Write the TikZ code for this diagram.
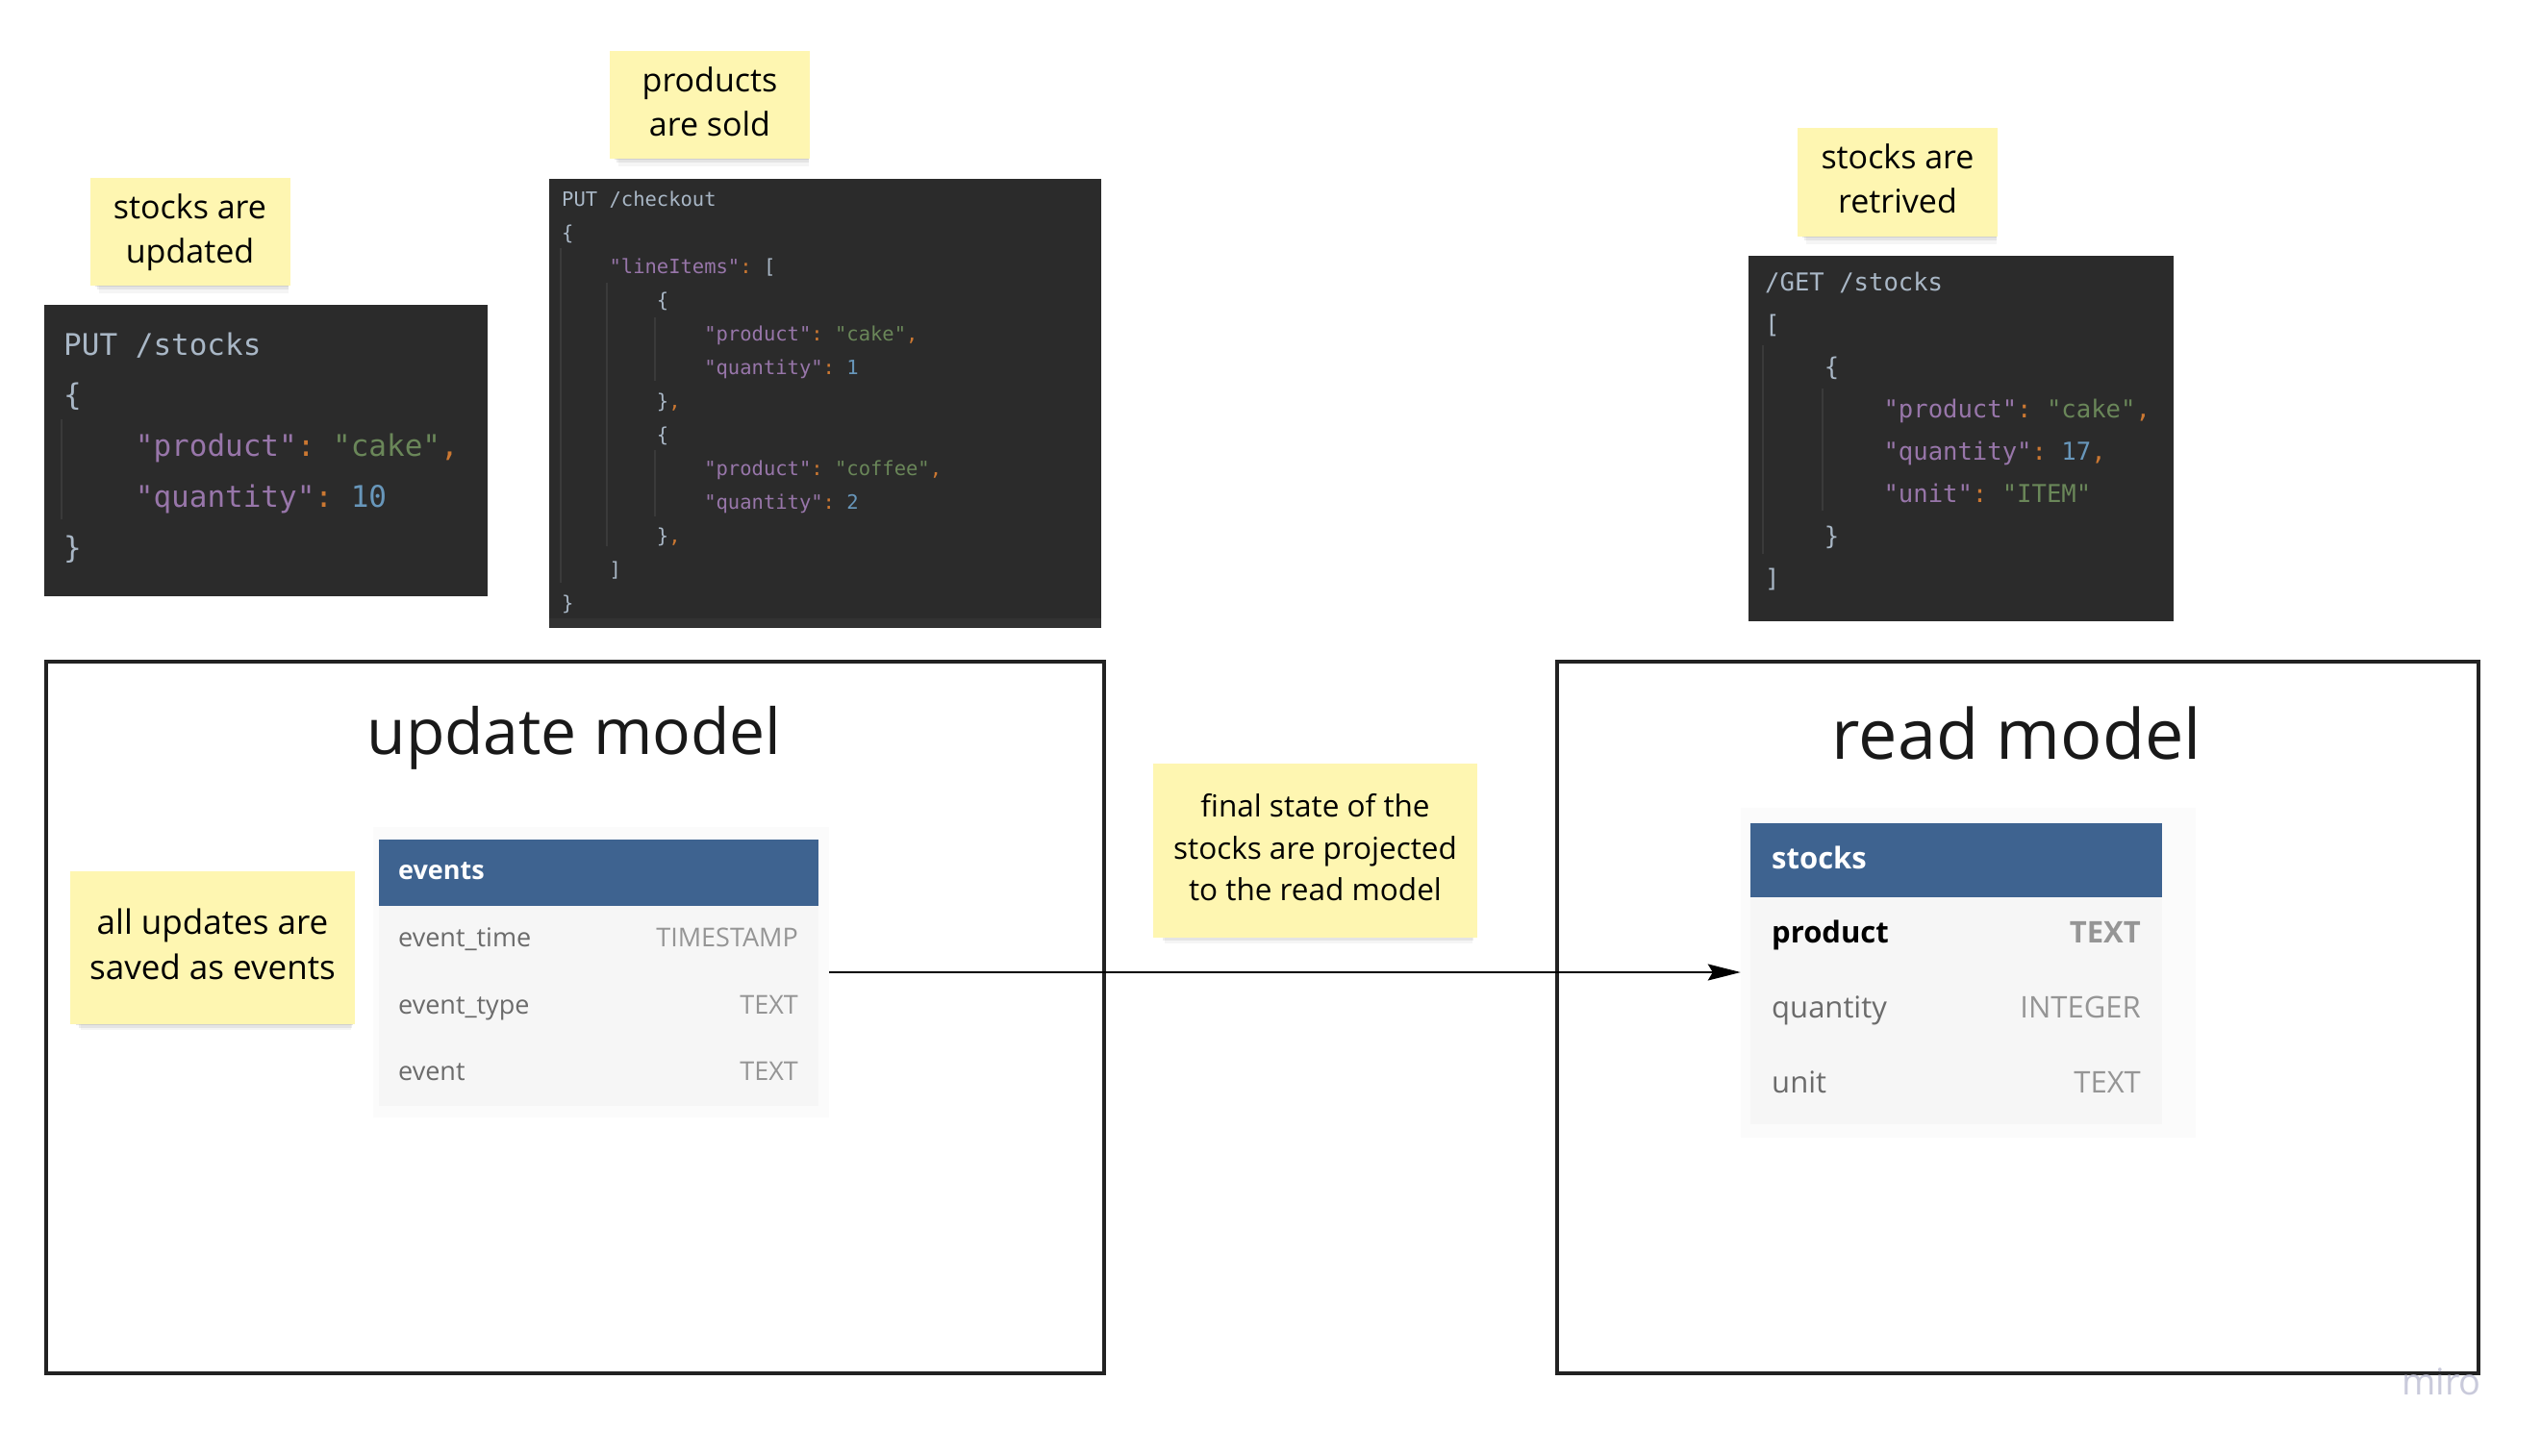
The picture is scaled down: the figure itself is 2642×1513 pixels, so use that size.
\documentclass[tikz,border=0pt]{standalone}
\usepackage{fontspec}
\setmainfont{Open Sans}
\setmonofont{DejaVu Sans Mono}
\usetikzlibrary{arrows.meta}
\usetikzlibrary{shadows}

\definecolor{codebg}{HTML}{2B2B2B}
\definecolor{codestrip}{HTML}{323232}
\definecolor{codefg}{HTML}{A9B7C6}
\definecolor{keyc}{HTML}{9876AA}
\definecolor{strc}{HTML}{6A8759}
\definecolor{numc}{HTML}{6897BB}
\definecolor{punc}{HTML}{CC7832}
\definecolor{guidec}{HTML}{3A3A3A}
\definecolor{notec}{HTML}{FEF6B1}
\definecolor{headc}{HTML}{3E6390}
\definecolor{bodyc}{HTML}{F6F6F6}
\definecolor{tabbgc}{HTML}{FBFBFB}
\definecolor{framec}{HTML}{222222}
\definecolor{namec}{HTML}{6B6B6B}
\definecolor{typec}{HTML}{959595}
\definecolor{miroc}{HTML}{C9CADB}

\newcommand{\jkey}[1]{\textcolor{keyc}{#1}}
\newcommand{\jstr}[1]{\textcolor{strc}{#1}}
\newcommand{\jnum}[1]{\textcolor{numc}{#1}}
\newcommand{\jpun}[1]{\textcolor{punc}{#1}}
\newcommand{\jin}{\hphantom{0000}}

\begin{document}
\begin{tikzpicture}[x=1pt,y=-1pt]
\tikzset{note/.style = {fill=notec, align=center, inner sep=0pt,
  drop shadow={shadow xshift=2pt, shadow yshift=-3pt, shadow scale=0.97, opacity=.2},
  drop shadow={shadow xshift=3pt, shadow yshift=-7pt, shadow scale=0.96, opacity=.14},
  drop shadow={shadow xshift=4pt, shadow yshift=-11pt, shadow scale=0.95, opacity=.08}}}
\tikzset{codebox/.style = {fill=codebg, inner sep=0pt}}
\tikzset{codetext/.style = {anchor=north west, align=left, inner sep=0pt, text=codefg}}
\tikzset{guide/.style = {draw=guidec, line width=1.5pt}}
\tikzset{frame/.style = {draw=framec, line width=4.5pt, inner sep=0pt}}
\tikzset{title/.style = {anchor=base, inner sep=0pt, text=black!90}}
\tikzset{tabbg/.style = {fill=tabbgc, inner sep=0pt}}
\tikzset{tabhead/.style = {fill=headc, inner sep=0pt}}
\tikzset{tabbody/.style = {fill=bodyc, inner sep=0pt}}
\tikzset{colname/.style = {anchor=base west, inner sep=0pt, text=namec}}
\tikzset{coltype/.style = {anchor=base east, inner sep=0pt, text=typec}}
\tikzset{edge/.style = {-{Stealth[length=34pt,width=17pt,inset=5pt]}, line width=2pt}}

\fill[white] (0,0) rectangle (2642,1513);
\useasboundingbox (0,0) rectangle (2642,1513);

% sticky notes
\node[note, minimum width=208pt, minimum height=112pt, font=\fontsize{34}{46}\selectfont] (noteput) at (197.5,241) {\strut stocks are\\updated\strut};
\node[note, minimum width=208pt, minimum height=112pt, font=\fontsize{34}{46}\selectfont] (notesold) at (738,109) {\strut products\\are sold\strut};
\node[note, minimum width=208pt, minimum height=113pt, font=\fontsize{34}{46}\selectfont] (noteget) at (1973,189.5) {\strut stocks are\\retrived\strut};
\node[note, minimum width=296pt, minimum height=159pt, font=\fontsize{35}{47}\selectfont] (noteevents) at (221,985.5) {\strut all updates are\\saved as events\strut};
\node[note, minimum width=337pt, minimum height=181pt, font=\fontsize{31.5}{43.6}\selectfont] (noteproj) at (1367.5,884.5) {\strut final state of the\\stocks are projected\\to the read model\strut};

% code snippets
\node[codebox, minimum width=461pt, minimum height=303pt] (codeput) at (276.5,468.5) {};
\draw[guide] (64,436) -- (64,540);
\node[codetext, font=\ttfamily\fontsize{31}{52.8}\selectfont] (jsonput) at (66,332) {\strut PUT /stocks\\
\{\\
\jin\jkey{"product"}\jpun{:} \jstr{"cake"}\jpun{,}\\
\jin\jkey{"quantity"}\jpun{:} \jnum{10}\\
\}};

\node[codebox, minimum width=574pt, minimum height=467pt] (codesold) at (858,419.5) {};
\fill[codestrip] (571,643) rectangle (1145,653);
\draw[guide] (583,258) -- (583,606);
\draw[guide] (631,294) -- (631,568);
\draw[guide] (681,330) -- (681,396);
\draw[guide] (681,468) -- (681,537);
\node[codetext, font=\ttfamily\fontsize{20.5}{35}\selectfont] (jsonsold) at (584,189.5) {\strut PUT /checkout\\
\{\\
\jin\jkey{"lineItems"}\jpun{:} {[}\\
\jin\jin\{\\
\jin\jin\jin\jkey{"product"}\jpun{:} \jstr{"cake"}\jpun{,}\\
\jin\jin\jin\jkey{"quantity"}\jpun{:} \jnum{1}\\
\jin\jin\}\jpun{,}\\
\jin\jin\{\\
\jin\jin\jin\jkey{"product"}\jpun{:} \jstr{"coffee"}\jpun{,}\\
\jin\jin\jin\jkey{"quantity"}\jpun{:} \jnum{2}\\
\jin\jin\}\jpun{,}\\
\jin]\\
\}};

\node[codebox, minimum width=442pt, minimum height=380pt] (codeget) at (2039,456) {};
\draw[guide] (1833,359) -- (1833,576);
\draw[guide] (1895,404) -- (1895,531);
\node[codetext, font=\ttfamily\fontsize{25.6}{44}\selectfont] (jsonget) at (1835,271.5) {\strut /GET /stocks\\
{[}\\
\jin\{\\
\jin\jin\jkey{"product"}\jpun{:} \jstr{"cake"}\jpun{,}\\
\jin\jin\jkey{"quantity"}\jpun{:} \jnum{17}\jpun{,}\\
\jin\jin\jkey{"unit"}\jpun{:} \jstr{"ITEM"}\\
\jin\}\\
]};

% models
\node[frame, minimum width=1100pt, minimum height=740pt] (upd) at (598,1058) {};
\node[frame, minimum width=958pt, minimum height=740pt] (rd) at (2098,1058) {};
\node[title, font=\fontsize{66}{70}\selectfont] (updtitle) at (597,784.5) {update model};
\node[title, font=\fontsize{72}{76}\selectfont] (rdtitle) at (2097,789) {read model};

% events table
\node[tabbg, minimum width=474pt, minimum height=302pt] (evbg) at (625,1011) {};
\node[tabhead, minimum width=457pt, minimum height=69pt] (evhead) at (622.5,907.5) {};
\node[tabbody, minimum width=457pt, minimum height=208pt] (evbody) at (622.5,1046) {};
\node[colname, text=white, font=\bfseries\fontsize{27}{30}\selectfont] (evname) at (414,914) {events};
\node[colname, font=\fontsize{27}{30}\selectfont] (evtime) at (414,984) {event\_time};
\node[coltype, font=\fontsize{27}{30}\selectfont] (evtimet) at (830,984) {TIMESTAMP};
\node[colname, font=\fontsize{27}{30}\selectfont] (evtype) at (414,1054) {event\_type};
\node[coltype, font=\fontsize{27}{30}\selectfont] (evtypet) at (830,1054) {TEXT};
\node[colname, font=\fontsize{27}{30}\selectfont] (evevent) at (414,1123) {event};
\node[coltype, font=\fontsize{27}{30}\selectfont] (eveventt) at (830,1123) {TEXT};

% stocks table
\node[tabbg, minimum width=473pt, minimum height=343pt] (stbg) at (2046.5,1011.5) {};
\node[tabhead, minimum width=428pt, minimum height=77pt] (sthead) at (2034,894.5) {};
\node[tabbody, minimum width=428pt, minimum height=236pt] (stbody) at (2034,1051) {};
\node[colname, text=white, font=\bfseries\fontsize{31}{34}\selectfont] (stname) at (1842,903) {stocks};
\node[colname, text=black, font=\bfseries\fontsize{31}{34}\selectfont] (stprod) at (1842,980) {product};
\node[coltype, font=\bfseries\fontsize{31}{34}\selectfont] (stprodt) at (2226,980) {TEXT};
\node[colname, font=\fontsize{31}{34}\selectfont] (stqty) at (1842,1058) {quantity};
\node[coltype, font=\fontsize{31}{34}\selectfont] (stqtyt) at (2226,1058) {INTEGER};
\node[colname, font=\fontsize{31}{34}\selectfont] (stunit) at (1842,1136.5) {unit};
\node[coltype, font=\fontsize{31}{34}\selectfont] (stunitt) at (2226,1136.5) {TEXT};

% projection
\coordinate (proj) at (0,1011);
\draw[edge] (evbg.east |- proj) to (stbg.west |- proj);

\node[anchor=base east, inner sep=0pt, text=miroc, font=\fontsize{38}{40}\selectfont] (miro) at (2580,1450) {miro};
\end{tikzpicture}
\end{document}
